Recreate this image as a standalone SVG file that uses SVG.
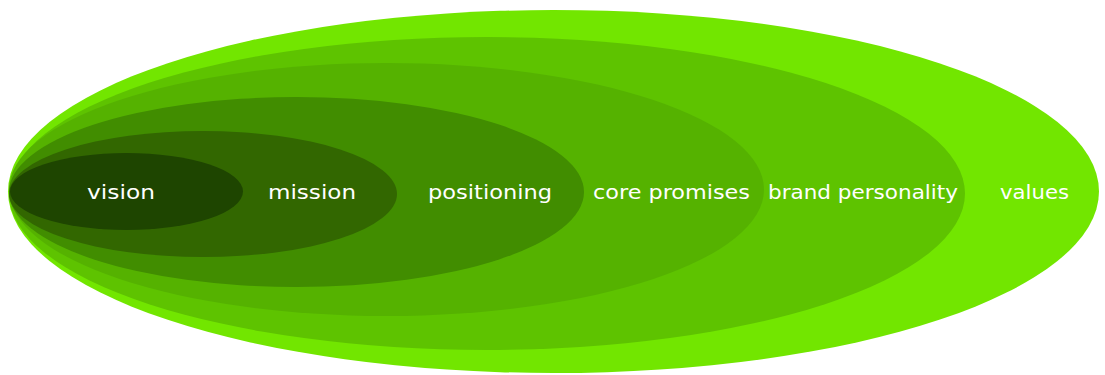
<svg xmlns="http://www.w3.org/2000/svg" width="1105" height="375" viewBox="0 0 1105 375">
  <style>
    .label { font-family: "DejaVu Sans", "Liberation Sans", sans-serif; font-size: 19px; fill: #ffffff; }
  </style>
  <rect width="1105" height="375" fill="#ffffff"/>
  <!-- nested layers, outermost first -->
  <g id="values">
    <ellipse cx="553.5" cy="191.5" rx="545.5" ry="181.5" fill="#72e600"/>
    <text class="label" x="1000" y="199" textLength="69" lengthAdjust="spacingAndGlyphs">values</text>
  </g>
  <g id="brand-personality">
    <ellipse cx="487" cy="193.5" rx="478" ry="156.5" fill="#5ec300"/>
    <text class="label" x="768" y="199" textLength="190" lengthAdjust="spacingAndGlyphs">brand personality</text>
  </g>
  <g id="core-promises">
    <ellipse cx="386.5" cy="189.5" rx="377.5" ry="126.5" fill="#55b200"/>
    <text class="label" x="593" y="199" textLength="157" lengthAdjust="spacingAndGlyphs">core promises</text>
  </g>
  <g id="positioning">
    <ellipse cx="296.5" cy="192" rx="287.5" ry="95" fill="#418d00"/>
    <text class="label" x="428" y="199" textLength="124" lengthAdjust="spacingAndGlyphs">positioning</text>
  </g>
  <g id="mission">
    <ellipse cx="203" cy="194" rx="194" ry="63" fill="#326700"/>
    <text class="label" x="268" y="199" textLength="88" lengthAdjust="spacingAndGlyphs">mission</text>
  </g>
  <g id="vision">
    <ellipse cx="126.5" cy="191.5" rx="116.5" ry="38.5" fill="#1e4500"/>
    <text class="label" x="87" y="199" textLength="68" lengthAdjust="spacingAndGlyphs">vision</text>
  </g>
  <g id="connectors"/>
</svg>
